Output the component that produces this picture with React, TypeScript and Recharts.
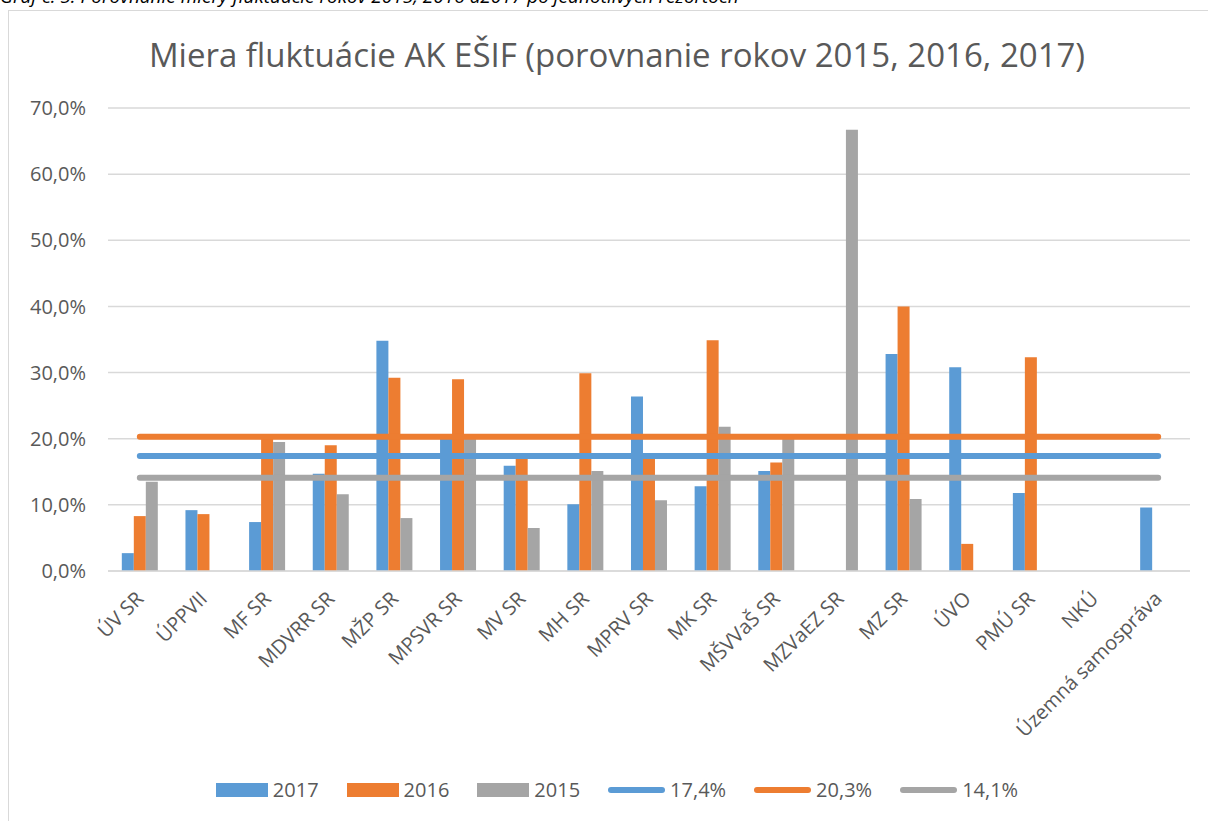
import React from 'react';
import {
  ComposedChart,
  Bar,
  Line,
  XAxis,
  YAxis,
  CartesianGrid,
} from 'recharts';

const categories = [
  'ÚV SR',
  'ÚPPVII',
  'MF SR',
  'MDVRR SR',
  'MŽP SR',
  'MPSVR SR',
  'MV SR',
  'MH SR',
  'MPRV SR',
  'MK SR',
  'MŠVVaŠ SR',
  'MZVaEZ SR',
  'MZ SR',
  'ÚVO',
  'PMÚ SR',
  'NKÚ',
  'Územná samospráva',
];

// fluktuácia v % podľa rezortu
const values2017 = [2.7, 9.2, 7.4, 14.7, 34.8, 20.0, 15.9, 10.1, 26.4, 12.8, 15.1, null, 32.8, 30.8, 11.8, null, 9.6];
const values2016 = [8.3, 8.6, 20.0, 19.0, 29.2, 29.0, 17.1, 29.9, 17.1, 34.9, 16.4, null, 40.0, 4.1, 32.3, null, null];
const values2015 = [13.5, null, 19.5, 11.6, 8.0, 20.0, 6.5, 15.1, 10.7, 21.8, 20.0, 66.7, 10.9, null, null, null, null];

// priemery za roky 2017, 2016, 2015
const avg2017 = 17.4;
const avg2016 = 20.3;
const avg2015 = 14.1;

const yTicks = [0, 10, 20, 30, 40, 50, 60, 70];

const BLUE = '#5B9BD5';
const ORANGE = '#ED7D31';
const GRAY = '#A5A5A5';
const TEXT = '#595959';
const FONT = '"Open Sans", sans-serif';

const fmtPct = (v: number) => `${v.toFixed(1).replace('.', ',')}%`;

const data = categories.map((name, i) => ({
  name,
  y2017: values2017[i],
  y2016: values2016[i],
  y2015: values2015[i],
  a2017: avg2017,
  a2016: avg2016,
  a2015: avg2015,
}));

const legendItems = [
  { label: '2017', color: BLUE, kind: 'bar' },
  { label: '2016', color: ORANGE, kind: 'bar' },
  { label: '2015', color: GRAY, kind: 'bar' },
  { label: fmtPct(avg2017), color: BLUE, kind: 'line' },
  { label: fmtPct(avg2016), color: ORANGE, kind: 'line' },
  { label: fmtPct(avg2015), color: GRAY, kind: 'line' },
];

const AngledTick = (props: any) => {
  const { x, y, payload } = props;
  const px = x + 5;
  const py = y + 21;
  return (
    <text
      x={px}
      y={py}
      transform={`rotate(-45, ${px}, ${py})`}
      textAnchor="end"
      fill={TEXT}
      fontSize={20}
      fontFamily={FONT}
    >
      {payload.value}
    </text>
  );
};

const W = 1216;
const H = 810;

export default function App() {
  return (
    <div
      style={{
        position: 'fixed',
        left: 0,
        top: 0,
        width: 1208,
        height: 821,
        overflow: 'hidden',
        background: '#fff',
      }}
    >
      <div
        style={{
          position: 'absolute',
          left: 0,
          top: -17,
          fontFamily: FONT,
          fontStyle: 'italic',
          fontSize: 19,
          whiteSpace: 'nowrap',
          color: '#000',
        }}
      >
        Graf č. 5: Porovnanie miery fluktuácie rokov 2015, 2016 a2017 po jednotlivých rezortoch
      </div>
      <div
        style={{
          position: 'absolute',
          left: 8,
          top: 10,
          width: W,
          height: H,
          border: '1px solid #d9d9d9',
        }}
      >
        <div
          style={{
            position: 'absolute',
            left: 0,
            top: 21,
            width: W,
            textAlign: 'center',
            fontFamily: FONT,
            fontSize: 33,
            color: TEXT,
            whiteSpace: 'nowrap',
          }}
        >
          Miera fluktuácie AK EŠIF (porovnanie rokov 2015, 2016, 2017)
        </div>
        <ComposedChart
          width={W}
          height={H}
          data={data}
          margin={{ top: 97, right: 35, left: 0, bottom: 90 }}
          barCategoryGap="21.7%"
          barGap={0}
        >
          <CartesianGrid vertical={false} stroke="#d9d9d9" strokeWidth={1.5} />
          <XAxis
            dataKey="name"
            interval={0}
            tickLine={false}
            axisLine={{ stroke: '#d9d9d9', strokeWidth: 1.5 }}
            tick={<AngledTick />}
            height={160}
          />
          <YAxis
            width={99}
            domain={[0, 70]}
            ticks={yTicks}
            tickFormatter={fmtPct}
            axisLine={false}
            tickLine={false}
            tickSize={0}
            tickMargin={22}
            tick={{ fill: TEXT, fontSize: 20, fontFamily: FONT }}
          />
          <Bar dataKey="y2017" name="2017" fill={BLUE} isAnimationActive={false} />
          <Bar dataKey="y2016" name="2016" fill={ORANGE} isAnimationActive={false} />
          <Bar dataKey="y2015" name="2015" fill={GRAY} isAnimationActive={false} />
          <Line
            dataKey="a2017"
            name={fmtPct(avg2017)}
            stroke={BLUE}
            strokeWidth={6}
            strokeLinecap="round"
            dot={false}
            activeDot={false}
            isAnimationActive={false}
          />
          <Line
            dataKey="a2016"
            name={fmtPct(avg2016)}
            stroke={ORANGE}
            strokeWidth={6}
            strokeLinecap="round"
            dot={false}
            activeDot={false}
            isAnimationActive={false}
          />
          <Line
            dataKey="a2015"
            name={fmtPct(avg2015)}
            stroke={GRAY}
            strokeWidth={6}
            strokeLinecap="round"
            dot={false}
            activeDot={false}
            isAnimationActive={false}
          />
        </ComposedChart>
        <div
          style={{
            position: 'absolute',
            left: 0,
            top: 765,
            width: W,
            display: 'flex',
            justifyContent: 'center',
            alignItems: 'center',
            gap: 28,
            fontFamily: FONT,
            fontSize: 20,
            color: TEXT,
          }}
        >
          {legendItems.map((it) => (
            <div key={it.label} style={{ display: 'flex', alignItems: 'center', gap: 5 }}>
              {it.kind === 'bar' ? (
                <span style={{ display: 'inline-block', width: 52, height: 14, background: it.color }} />
              ) : (
                <span
                  style={{
                    display: 'inline-block',
                    width: 57,
                    height: 6,
                    borderRadius: 3,
                    background: it.color,
                  }}
                />
              )}
              <span>{it.label}</span>
            </div>
          ))}
        </div>
      </div>
    </div>
  );
}
